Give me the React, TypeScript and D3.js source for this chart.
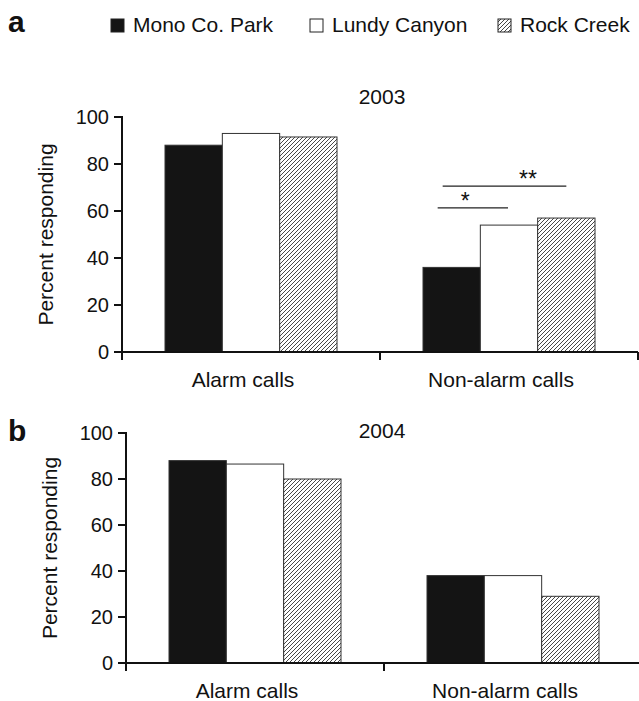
import React from 'react';
import * as d3 from 'd3';

const categories = ['Alarm calls', 'Non-alarm calls'];
const sites = ['Mono Co. Park', 'Lundy Canyon', 'Rock Creek'];
const values2003 = [
  [88, 93, 91.5],
  [36, 54, 57],
];
const values2004 = [
  [88, 86.5, 80],
  [38, 38, 29],
];
const yTicks = [0, 20, 40, 60, 80, 100];
// significance bars over the non-alarm calls in 2003
const sigLabels = ['*', '**'];
const sigLevels = [61.3, 70.6];

const FONT = 'Liberation Sans, Arial, Helvetica, sans-serif';
const fills = ['#141414', '#ffffff', 'url(#hatch)'];

function Panel({ values, year, letter, letterY, left, top, bottom, showSig }) {
  const right = left + 516;
  const x0 = d3.scaleBand().domain(categories).range([left, right]);
  const x1 = d3.scaleBand().domain(sites).range([0, x0.bandwidth()]).paddingOuter(0.75);
  const y = d3.scaleLinear().domain([0, 100]).range([bottom, top]);
  const bw = x1.bandwidth();

  let sig = null;
  if (showSig) {
    const base = x0(categories[1]);
    const xs = sites.map((s) => base + x1(s) + bw / 2);
    sig = (
      <g>
        <line x1={xs[0] - 14} x2={xs[1] - 1} y1={y(sigLevels[0])} y2={y(sigLevels[0])} stroke="#222" strokeWidth={1.3} />
        <text x={(xs[0] + xs[1]) / 2 - 15} y={y(sigLevels[0]) + 1} textAnchor="middle" fontSize={23} fontFamily={FONT} fill="#111">{sigLabels[0]}</text>
        <line x1={xs[0] - 9} x2={xs[2] - 0} y1={y(sigLevels[1])} y2={y(sigLevels[1])} stroke="#222" strokeWidth={1.3} />
        <text x={(xs[0] + xs[2]) / 2 + 19} y={y(sigLevels[1]) + 1} textAnchor="middle" fontSize={23} fontFamily={FONT} fill="#111">{sigLabels[1]}</text>
      </g>
    );
  }

  return (
    <g>
      <text x={8} y={letterY} fontSize={30} fontWeight="bold" fontFamily={FONT} fill="#111">{letter}</text>
      <text x={382} y={top - 13 + (letter === 'a' ? 0 : 18)} fontSize={21} textAnchor="middle" fontFamily={FONT} fill="#111">{year}</text>
      <text
        transform={`translate(${left - 69},${(y(0) + y(100)) / 2}) rotate(-90)`}
        textAnchor="middle"
        fontSize={21}
        fontFamily={FONT}
        fill="#111"
      >
        Percent responding
      </text>
      {values.map((row, ci) =>
        row.map((v, si) => (
          <rect
            key={`${ci}-${si}`}
            x={x0(categories[ci]) + x1(sites[si])}
            y={y(v)}
            width={bw}
            height={y(0) - y(v)}
            fill={fills[si]}
            stroke="#333"
            strokeWidth={1}
          />
        ))
      )}
      {/* y axis */}
      <line x1={left} x2={left} y1={y(100) - 1} y2={y(0) + 8} stroke="#111" strokeWidth={2} />
      {yTicks.map((t) => (
        <g key={t}>
          <line x1={left - 8} x2={left} y1={y(t)} y2={y(t)} stroke="#111" strokeWidth={2} />
          <text x={left - 13} y={y(t) + 7} textAnchor="end" fontSize={20} fontFamily={FONT} fill="#111">{t}</text>
        </g>
      ))}
      {/* x axis */}
      <line x1={left} x2={right} y1={y(0)} y2={y(0)} stroke="#111" strokeWidth={2} />
      {[left, x0(categories[1]), right].map((tx, i) => (
        <line key={i} x1={tx} x2={tx} y1={y(0)} y2={y(0) + 8} stroke="#111" strokeWidth={2} />
      ))}
      {categories.map((c) => (
        <text key={c} x={x0(c) + x0.bandwidth() / 2 - 8} y={y(0) + 35} textAnchor="middle" fontSize={21} fontFamily={FONT} fill="#111">{c}</text>
      ))}
      {sig}
    </g>
  );
}

export default function App() {
  const legendX = [111, 310, 498];
  return (
    <svg width={639} height={701} style={{ position: 'absolute', left: 0, top: 0, background: '#fff' }}>
      <defs>
        <pattern id="hatch" patternUnits="userSpaceOnUse" width={4} height={4}>
          <rect width={4} height={4} fill="#fff" />
          <path d="M-1,1 l2,-2 M0,4 l4,-4 M3,5 l2,-2" stroke="#333" strokeWidth={0.9} />
        </pattern>
      </defs>
      <rect width={639} height={701} fill="#fff" />
      {sites.map((s, i) => (
        <g key={s}>
          <rect x={legendX[i]} y={19} width={13} height={13} fill={fills[i]} stroke="#222" strokeWidth={1} />
          <text x={legendX[i] + 22} y={32} fontSize={21} fontFamily={FONT} fill="#111">{s}</text>
        </g>
      ))}
      <Panel values={values2003} year="2003" letter="a" letterY={32} left={122} top={117} bottom={352} showSig={true} />
      <Panel values={values2004} year="2004" letter="b" letterY={441} left={126} top={433} bottom={663} showSig={false} />
    </svg>
  );
}
